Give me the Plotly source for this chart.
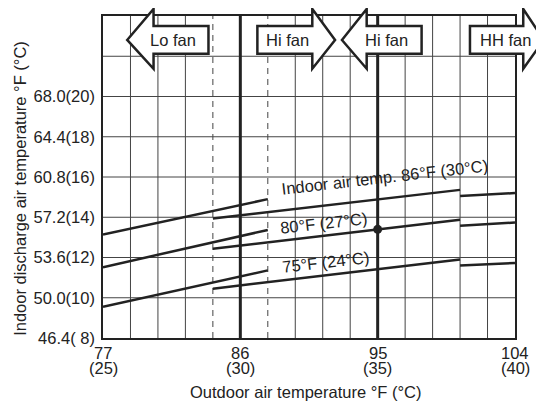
import plotly.graph_objects as go

# outdoor temperature in deg C (x) / indoor discharge temperature in deg C (y)
seg_x = [[25, 31], [29, 38], [38, 40]]
t86_y = [[13.14, 14.90], [13.94, 15.36], [15.06, 15.20]]
t80_y = [[11.52, 13.37], [12.43, 13.88], [13.58, 13.74]]
t75_y = [[9.55, 11.36], [10.45, 11.90], [11.60, 11.73]]
point_x = [35]
point_y = [13.40]

x_ticks = [25, 30, 35, 40]
x_ticks_f = ["77", "86", "95", "104"]
x_ticks_c = ["(25)", "(30)", "(35)", "(40)"]
y_ticks = [8, 10, 12, 14, 16, 18, 20]
y_ticktext = ["46.4( 8)", "50.0(10)", "53.6(12)", "57.2(14)", "60.8(16)", "64.4(18)", "68.0(20)"]

line_labels = ["Indoor air temp. 86°F (30°C)", "80°F (27°C)", "75°F (24°C)"]
line_label_x = [35.27, 33.02, 33.09]
line_label_y = [16.0, 13.73, 11.80]

# fan mode arrows: tip, head base, body end (deg C)
fan_labels = ["Lo fan", "Hi fan", "Hi fan", "HH fan"]
fan_tip = [25.88, 33.45, 33.70, 41.05]
fan_base = [26.84, 32.62, 34.60, 40.30]
fan_end = [28.84, 30.62, 36.60, 38.36]
fan_text_x = [27.55, 31.70, 35.32, 39.66]

X0, X1, Y0, Y1 = 25, 40, 8, 24
INK = "#222222"
FS = 16.5


def px(c):
    return (c - X0) / (X1 - X0)


def py(c):
    return (c - Y0) / (Y1 - Y0)


def note(text, x, y, xref="paper", yref="paper", **kw):
    return dict(text=text, x=x, y=y, xref=xref, yref=yref, showarrow=False,
                xanchor="center", yanchor="middle", font=dict(size=FS, color=INK), **kw)


fig = go.Figure()
for ys in (t86_y, t80_y, t75_y):
    for xs, yy in zip(seg_x, ys):
        fig.add_trace(go.Scatter(x=xs, y=yy, mode="lines",
                                 line=dict(color=INK, width=2.5), showlegend=False))
fig.add_trace(go.Scatter(x=point_x, y=point_y, mode="markers",
                         marker=dict(color=INK, size=9), showlegend=False))

shapes = []
# grid
for c in range(X0 + 1, X1):
    if c in (30, 35):
        continue
    dash = "6px,5px" if c in (29, 31) else "solid"
    shapes.append(dict(type="line", xref="x", yref="y", x0=c, x1=c, y0=Y0, y1=Y1,
                       line=dict(color="#444", width=1, dash=dash), layer="below"))
for c in range(Y0 + 2, Y1, 2):
    shapes.append(dict(type="line", xref="x", yref="y", x0=X0, x1=X1, y0=c, y1=c,
                       line=dict(color="#444", width=1), layer="below"))
for c in (30, 35):
    shapes.append(dict(type="line", xref="x", yref="y", x0=c, x1=c, y0=Y0, y1=Y1,
                       line=dict(color=INK, width=3), layer="below"))

# arrows
yh_top, yb_top, y_mid, yb_bot, yh_bot = py(24.35), py(23.5), py(22.81), py(22.12), py(21.38)
annotations = []
for lab, t, b, e, tx in zip(fan_labels, fan_tip, fan_base, fan_end, fan_text_x):
    pts = [(px(t), y_mid), (px(b), yh_top), (px(b), yb_top), (px(e), yb_top),
           (px(e), yb_bot), (px(b), yb_bot), (px(b), yh_bot)]
    path = "M " + " L ".join(f"{a:.4f},{b_:.4f}" for a, b_ in pts) + " Z"
    shapes.append(dict(type="path", xref="paper", yref="paper", path=path,
                       fillcolor="white", line=dict(color=INK, width=2.5), layer="above"))
    annotations.append(note(lab, px(tx), py(22.8)))

for lab, x, y in zip(line_labels, line_label_x, line_label_y):
    annotations.append(note(lab, x, y, xref="x", yref="y", textangle=-6.5))

for x, f, c in zip(x_ticks, x_ticks_f, x_ticks_c):
    annotations.append(note(f, x, 0, xref="x", yshift=-15))
    annotations.append(note(c, x, 0, xref="x", yshift=-30))

annotations.append(note("Outdoor air temperature °F (°C)", 0.491, 0, yshift=-54))
annotations.append(note("Indoor discharge air temperature °F (°C)", -0.2, 0.465, textangle=-90))

# page body adds an 8px margin, so the figure is drawn 8px smaller
fig.update_layout(
    width=536, height=394,
    margin=dict(l=94.5, r=29, t=6, b=64),
    paper_bgcolor="white", plot_bgcolor="white",
    font=dict(family="Liberation Sans, Arial, sans-serif", size=FS, color=INK),
    shapes=shapes, annotations=annotations,
    xaxis=dict(range=[X0, X1], showgrid=False, zeroline=False, showticklabels=False,
               showline=True, mirror=True, linecolor=INK, linewidth=1.5, ticks=""),
    yaxis=dict(range=[Y0, Y1], showgrid=False, zeroline=False, tickvals=y_ticks,
               ticktext=y_ticktext, showline=True, mirror=True, linecolor=INK,
               linewidth=1.5, ticks="", ticklabelstandoff=3),
)

fig.write_html("out.html")
